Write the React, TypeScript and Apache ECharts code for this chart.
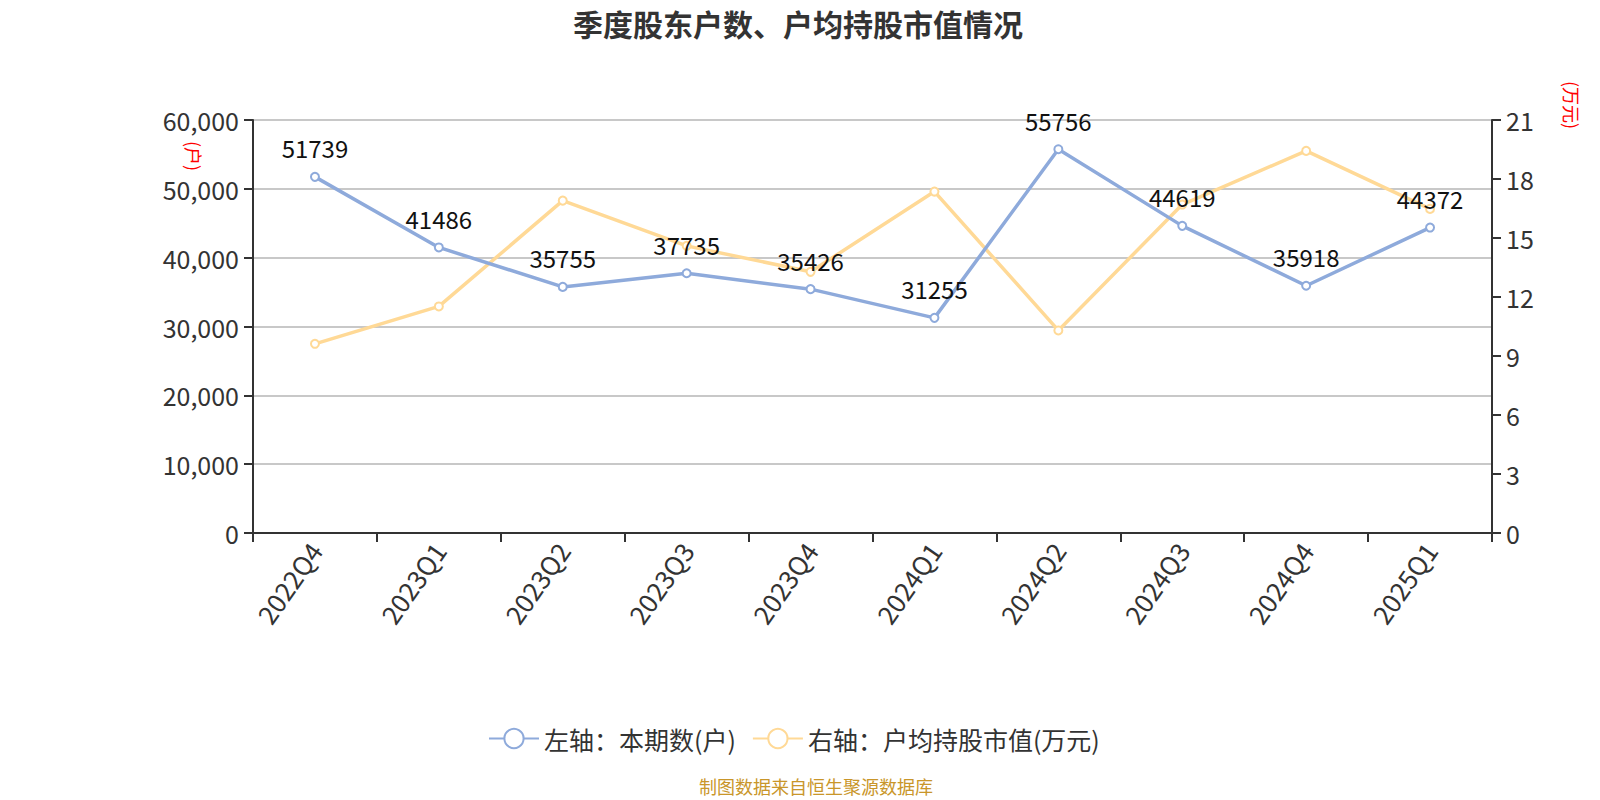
import React, { useEffect, useRef } from "react";
import * as echarts from "echarts";

const categories = ["2022Q4", "2023Q1", "2023Q2", "2023Q3", "2023Q4", "2024Q1", "2024Q2", "2024Q3", "2024Q4", "2025Q1"];
const holders = [51739, 41486, 35755, 37735, 35426, 31255, 55756, 44619, 35918, 44372];
const avgValue = [9.62, 11.52, 16.9, 14.6, 13.28, 17.36, 10.3, 16.7, 19.43, 16.48];
const leftTicks = { min: 0, max: 60000, interval: 10000 };
const rightTicks = { min: 0, max: 21, interval: 3 };
const titleText = "季度股东户数、户均持股市值情况";
const seriesNames = ["左轴：本期数(户)", "右轴：户均持股市值(万元)"];
const footerText = "制图数据来自恒生聚源数据库";

const FONT = '"Noto Sans CJK SC", "Noto Sans", sans-serif';

export default function App() {
  const ref = useRef<HTMLDivElement>(null);
  useEffect(() => {
    if (!ref.current) return;
    const chart = echarts.init(ref.current, null, { renderer: "svg" });
    chart.setOption({
      animation: false,
      backgroundColor: "#fff",
      textStyle: { fontFamily: FONT },
      title: {
        text: titleText,
        left: 793,
        top: 3,
        textAlign: "center",
        textStyle: { fontSize: 30, fontWeight: "bold", color: "#333", fontFamily: FONT },
      },
      legend: {
        left: 483,
        top: 721,
        itemWidth: 50,
        itemHeight: 24,
        itemGap: 16,
        textStyle: { fontSize: 25, color: "#333", fontFamily: FONT },
        data: seriesNames,
      },
      grid: { left: 253, right: 108, top: 120, bottom: 267, containLabel: false },
      xAxis: {
        type: "category",
        data: categories,
        boundaryGap: true,
        axisLine: { lineStyle: { color: "#333", width: 2 } },
        axisTick: { show: true, length: 9, lineStyle: { color: "#333", width: 2 } },
        axisLabel: { rotate: 55, fontSize: 26, color: "#333", margin: 12, fontFamily: FONT },
      },
      yAxis: [
        {
          type: "value",
          min: leftTicks.min,
          max: leftTicks.max,
          interval: leftTicks.interval,
          axisLine: { show: true, lineStyle: { color: "#333", width: 2 } },
          axisTick: { show: true, length: 9, lineStyle: { color: "#333", width: 2 } },
          axisLabel: {
            fontSize: 25,
            color: "#333",
            margin: 14,
            fontFamily: FONT,
            formatter: (v: number) => v.toLocaleString("en-US"),
          },
          splitLine: { show: true, lineStyle: { color: "#c8c8c8", width: 2 } },
        },
        {
          type: "value",
          min: rightTicks.min,
          max: rightTicks.max,
          interval: rightTicks.interval,
          position: "right",
          axisLine: { show: true, lineStyle: { color: "#333", width: 2 } },
          axisTick: { show: true, length: 9, lineStyle: { color: "#333", width: 2 } },
          axisLabel: { fontSize: 25, color: "#333", margin: 14, fontFamily: FONT },
          splitLine: { show: false },
        },
      ],
      graphic: [
        {
          type: "text",
          x: 194,
          y: 156,
          rotation: -Math.PI / 2,
          style: { text: "(户)", fill: "#ff0000", fontSize: 18, fontFamily: FONT, align: "center", verticalAlign: "middle" },
        },
        {
          type: "text",
          x: 1572,
          y: 105,
          rotation: -Math.PI / 2,
          style: { text: "(万元)", fill: "#ff0000", fontSize: 18, fontFamily: FONT, align: "center", verticalAlign: "middle" },
        },
        {
          type: "text",
          x: 816,
          y: 786,
          style: { text: footerText, fill: "#c9962a", fontSize: 18, fontFamily: FONT, align: "center", verticalAlign: "middle" },
        },
      ],
      series: [
        {
          name: seriesNames[0],
          type: "line",
          yAxisIndex: 0,
          data: holders,
          symbol: "emptyCircle",
          symbolSize: 8,
          itemStyle: { color: "#8eaadb", borderWidth: 2 },
          lineStyle: { color: "#8eaadb", width: 3.5 },
          label: { show: true, position: "top", distance: 12, fontSize: 24, color: "#111", fontFamily: FONT },
          z: 3,
        },
        {
          name: seriesNames[1],
          type: "line",
          yAxisIndex: 1,
          data: avgValue,
          symbol: "emptyCircle",
          symbolSize: 8,
          itemStyle: { color: "#ffd996", borderWidth: 2 },
          lineStyle: { color: "#ffd996", width: 3.5 },
          label: { show: false },
          z: 2,
        },
      ],
    });
    return () => chart.dispose();
  }, []);
  return <div ref={ref} style={{ position: "absolute", left: 0, top: 0, width: 1600, height: 800 }} />;
}
